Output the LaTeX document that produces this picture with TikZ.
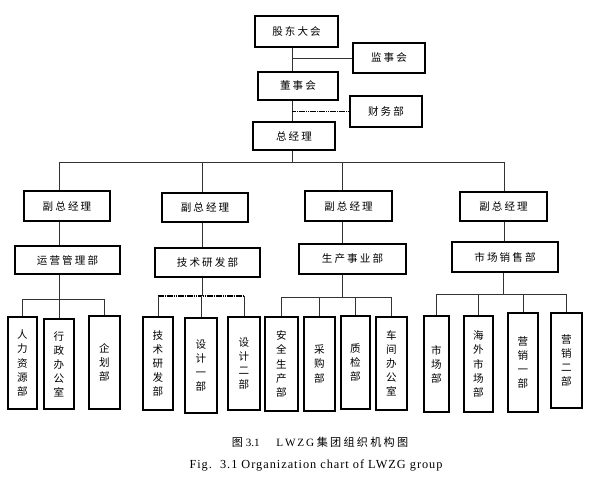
\documentclass[tikz,border=0pt]{standalone}
\usepackage{fontspec}
\setmainfont{Liberation Serif}
\newfontfamily\cjk[LetterSpace=20]{Noto Sans CJK SC}
\usepackage{tikz}
\usetikzlibrary{positioning, calc}

\tikzset{
  orgbox/.style={draw, line width=0.9pt, inner sep=0pt, font=\cjk\fontsize{9}{12}\selectfont},
  leafbox/.style={orgbox, align=center},
  link/.style={line width=0.6pt, black!80},
  dotlink/.style={line width=1.1pt, black, dash pattern=on 1.4pt off 0.5pt},
}

\begin{document}
\begin{tikzpicture}[x=0.03cm, y=-0.03cm]
        \useasboundingbox (0,0) rectangle (597,489);

        % Top levels
        \node[orgbox, minimum width=2.49cm, minimum height=0.93cm] (gd) at (296.5,31.5) {股东大会};
        \node[orgbox, minimum width=2.16cm, minimum height=0.90cm] (js) at (389,58) {监事会};
        \node[orgbox, minimum width=2.40cm, minimum height=0.84cm] (ds) at (298,86) {董事会};
        \node[orgbox, minimum width=2.16cm, minimum height=0.93cm] (cw) at (386,111.5) {财务部};
        \node[orgbox, minimum width=2.46cm, minimum height=0.84cm] (zj) at (294,136) {总经理};

        % Vice presidents
        \node[orgbox, minimum width=2.58cm, minimum height=0.90cm] (vp1) at (67,206) {副总经理};
        \node[orgbox, minimum width=2.58cm, minimum height=0.87cm] (vp2) at (205,207.5) {副总经理};
        \node[orgbox, minimum width=2.61cm, minimum height=0.90cm] (vp3) at (348.5,206) {副总经理};
        \node[orgbox, minimum width=2.61cm, minimum height=0.87cm] (vp4) at (503.5,206.5) {副总经理};

        % Departments
        \node[orgbox, minimum width=3.15cm, minimum height=0.84cm] (dep1) at (67.5,260) {运营管理部};
        \node[orgbox, minimum width=3.15cm, minimum height=0.87cm] (dep2) at (207.5,262.5) {技术研发部};
        \node[orgbox, minimum width=3.21cm, minimum height=0.90cm] (dep3) at (352.5,259) {生产事业部};
        \node[orgbox, minimum width=3.18cm, minimum height=0.90cm] (dep4) at (505,257) {市场销售部};

        % Offices, group 1
        \node[leafbox, minimum width=0.87cm, minimum height=2.76cm] (a1) at (22.5,363) {人\\力\\资\\源\\部};
        \node[leafbox, minimum width=0.90cm, minimum height=2.70cm] (a2) at (59,364) {行\\政\\办\\公\\室};
        \node[leafbox, minimum width=0.93cm, minimum height=2.79cm] (a3) at (104.5,362.5) {企\\划\\部};

        % Offices, group 2
        \node[leafbox, minimum width=0.90cm, minimum height=2.79cm] (b1) at (158,363.5) {技\\术\\研\\发\\部};
        \node[leafbox, minimum width=0.96cm, minimum height=2.85cm] (b2) at (201,365.5) {设\\计\\一\\部};
        \node[leafbox, minimum width=0.96cm, minimum height=2.79cm] (b3) at (244,363.5) {设\\计\\二\\部};

        % Offices, group 3
        \node[leafbox, minimum width=0.99cm, minimum height=2.82cm] (c1) at (281.5,364) {安\\全\\生\\产\\部};
        \node[leafbox, minimum width=0.93cm, minimum height=2.82cm] (c2) at (319.5,364) {采\\购\\部};
        \node[leafbox, minimum width=0.87cm, minimum height=2.79cm] (c3) at (355.5,362.5) {质\\检\\部};
        \node[leafbox, minimum width=0.93cm, minimum height=2.79cm] (c4) at (391.5,363.5) {车\\间\\办\\公\\室};

        % Offices, group 4
        \node[leafbox, minimum width=0.75cm, minimum height=2.88cm] (e1) at (436.5,364) {市\\场\\部};
        \node[leafbox, minimum width=0.87cm, minimum height=2.88cm] (e2) at (478.5,364) {海\\外\\市\\场\\部};
        \node[leafbox, minimum width=0.90cm, minimum height=2.97cm] (e3) at (523,362.5) {营\\销\\一\\部};
        \node[leafbox, minimum width=0.93cm, minimum height=2.85cm] (e4) at (566.5,360.5) {营\\销\\二\\部};

        % Spine
        \coordinate (spine) at (292,0);
        \draw[link] (gd.south -| spine) -- (ds.north -| spine);
        \draw[link] (js.west) -- (js.west -| spine);
        \draw[link] (ds.south -| spine) -- (zj.north -| spine);
        \draw[dotlink] (cw.west) -- (cw.west -| spine);

        % Main bus
        \coordinate (t1) at (59,162);
        \coordinate (t2) at (202,162);
        \coordinate (t3) at (342,162);
        \coordinate (t4) at (504,162);
        \draw[link] (zj.south -| spine) -- (spine |- t1);
        \draw[link] (t1) -- (t4 -| 505,0);
        \foreach \i in {1,...,4} {
            \draw[link] (t\i) -- (vp\i.north -| t\i);
            \draw[link] (vp\i.south -| t\i) -- (dep\i.north -| t\i);
        }

        % Sub buses
        \coordinate (s1) at (59,299);
        \coordinate (s2) at (202,296);
        \coordinate (s3) at (342,297);
        \coordinate (s4) at (503,294);
        \foreach \i in {1,...,4}
            \draw[link] (dep\i.south -| s\i) -- (s\i);

        \draw[link] (a1.north |- s1) -- (a3.north |- s1);
        \foreach \leaf in {a1,a2,a3}
            \draw[link] (\leaf.north) -- (\leaf.north |- s1);

        \draw[dotlink] (b1.north |- s2) -- (b3.north |- s2);
        \foreach \leaf in {b1,b2,b3}
            \draw[link] (\leaf.north) -- (\leaf.north |- s2);

        \draw[link] (c1.north |- s3) -- (c4.north |- s3);
        \foreach \leaf in {c1,c2,c3,c4}
            \draw[link] (\leaf.north) -- (\leaf.north |- s3);

        \draw[link] (e1.north |- s4) -- (e4.north |- s4);
        \foreach \leaf in {e1,e2,e3,e4}
            \draw[link] (\leaf.north) -- (\leaf.north |- s4);

        % Caption
        \node[font=\fontsize{9.5}{11}\selectfont] (cap1) at (320,442) {{\cjk 图}\ 3.1\quad\ \ L\,W\,Z\,G\ {\cjk 集团组织机构图}};
        \node[font=\fontsize{10.5}{12}\selectfont\addfontfeature{LetterSpace=8}] (cap2) at (316,465) {Fig.\ \ 3.1 Organization chart of LWZG group};
    \end{tikzpicture}
\end{document}
